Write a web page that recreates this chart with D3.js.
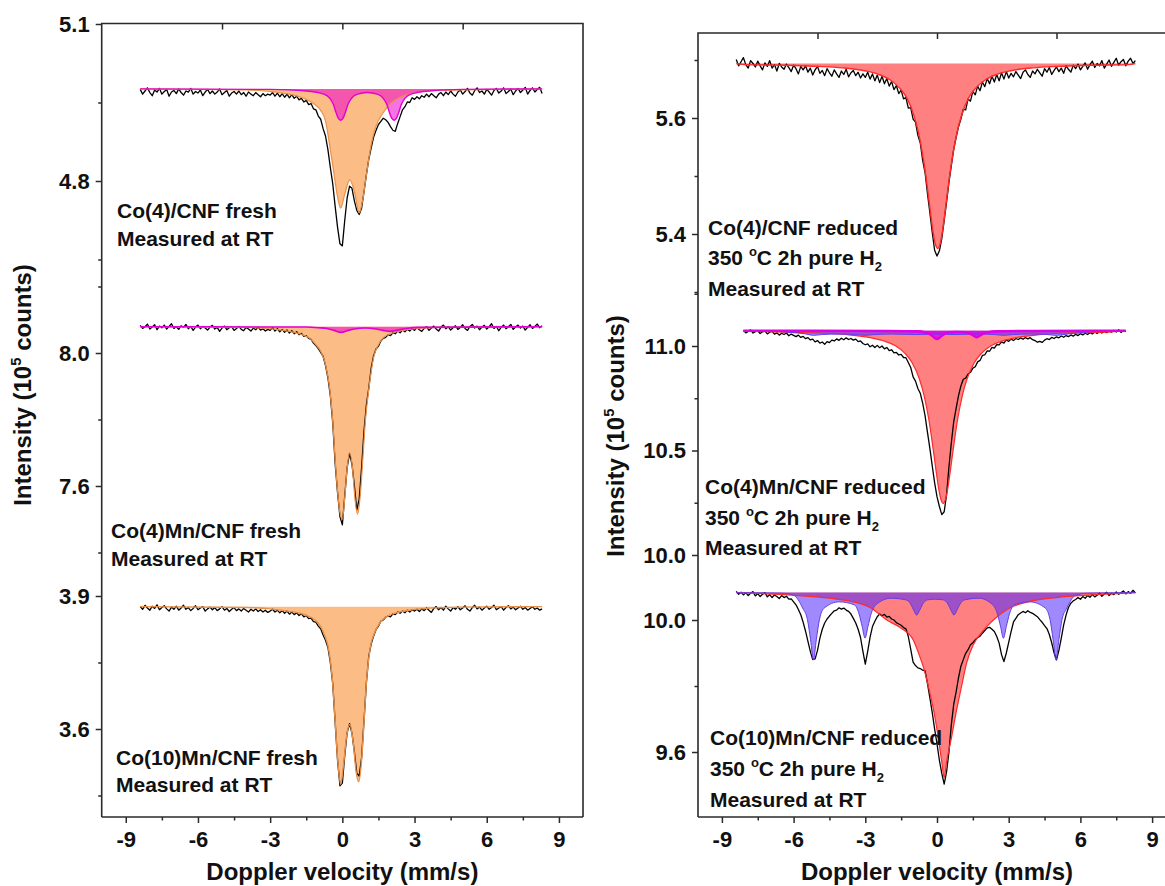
<!DOCTYPE html>
<html><head><meta charset="utf-8">
<script src="https://cdn.jsdelivr.net/npm/d3@7"></script>
<style>
body{margin:0;background:#fff;}
svg text{font-family:"Liberation Sans",Arial,Helvetica,sans-serif;font-weight:bold;fill:#111;}
</style></head><body>
<svg id="chart" width="1165" height="886"></svg>
<script>
// ---------------- DATA ----------------
// Doppler velocity channels (mm/s)
const velocityFull = d3.range(168).map(i => Math.round((-8.4 + i * 0.1) * 10) / 10); // -8.4 .. 8.3
const velocityR2 = d3.range(161).map(i => Math.round((-8.1 + i * 0.1) * 10) / 10);   // -8.1 .. 7.9

const xTickValues = [-9, -6, -3, 0, 3, 6, 9];
const xMinorTicks = [-7.5, -4.5, -1.5, 1.5, 4.5, 7.5];
const xTopTicks = [-5, 0, 5];

// y tick values of each stacked spectrum (10^5 counts)
const l1Major = [4.8, 5.1], l1Minor = [4.65, 4.95];
const l2Major = [7.6, 8.0], l2Minor = [7.4, 7.8, 8.2];
const l3Major = [3.6, 3.9], l3Minor = [3.45, 3.75];
const r1Major = [5.4, 5.6], r1Minor = [5.3, 5.5, 5.7];
const r2Major = [10.0, 10.5, 11.0], r2Minor = [10.25, 10.75, 11.25];
const r3Major = [9.6, 10.0], r3Minor = [9.8];

// measured spectra (black lines), 10^5 counts
const co4FreshCounts = [
4.975,4.966,4.972,4.978,4.969,4.963,4.974,4.970,4.977,4.966,
4.971,4.975,4.962,4.970,4.973,4.967,4.976,4.969,4.964,4.972,
4.970,4.977,4.966,4.971,4.968,4.974,4.963,4.970,4.975,4.967,
4.972,4.966,4.970,4.976,4.965,4.969,4.973,4.962,4.968,4.971,
4.966,4.972,4.965,4.969,4.962,4.970,4.966,4.963,4.969,4.965,
4.961,4.967,4.963,4.966,4.964,4.969,4.962,4.968,4.961,4.967,
4.960,4.966,4.959,4.965,4.958,4.962,4.955,4.958,4.951,4.954,
4.946,4.948,4.938,4.936,4.924,4.918,4.900,4.886,4.860,4.826,
4.795,4.752,4.712,4.680,4.676,4.725,4.768,4.790,4.786,4.762,
4.744,4.736,4.748,4.779,4.812,4.842,4.864,4.884,4.897,4.908,
4.914,4.920,4.917,4.912,4.904,4.897,4.895,4.910,4.923,4.936,
4.942,4.951,4.950,4.959,4.956,4.961,4.957,4.963,4.960,4.966,
4.961,4.967,4.963,4.959,4.966,4.969,4.963,4.970,4.965,4.972,
4.966,4.962,4.970,4.974,4.966,4.971,4.977,4.968,4.964,4.973,
4.978,4.969,4.972,4.966,4.975,4.970,4.964,4.973,4.977,4.968,
4.972,4.978,4.967,4.971,4.976,4.965,4.972,4.977,4.969,4.974,
4.979,4.966,4.973,4.978,4.970,4.975,4.979,4.967];

const co4MnFreshCounts = [
8.083,8.074,8.079,8.087,8.072,8.078,8.085,8.070,8.081,8.076,
8.084,8.072,8.080,8.088,8.074,8.079,8.071,8.082,8.077,8.086,
8.073,8.080,8.068,8.078,8.084,8.073,8.080,8.075,8.069,8.078,
8.083,8.072,8.077,8.065,8.075,8.081,8.070,8.076,8.079,8.068,
8.074,8.080,8.071,8.067,8.077,8.072,8.066,8.075,8.070,8.078,
8.069,8.073,8.066,8.071,8.068,8.076,8.066,8.073,8.064,8.071,
8.062,8.069,8.060,8.067,8.058,8.064,8.055,8.059,8.050,8.052,
8.044,8.041,8.030,8.022,8.013,8.002,7.990,7.962,7.925,7.872,
7.790,7.668,7.580,7.508,7.483,7.570,7.655,7.698,7.665,7.600,
7.528,7.560,7.655,7.765,7.845,7.895,7.955,7.992,8.012,8.020,
8.036,8.044,8.047,8.055,8.052,8.061,8.058,8.066,8.061,8.069,
8.064,8.071,8.066,8.074,8.068,8.077,8.070,8.065,8.074,8.079,
8.068,8.075,8.081,8.072,8.066,8.078,8.084,8.073,8.079,8.069,
8.076,8.082,8.071,8.077,8.085,8.074,8.068,8.080,8.086,8.075,
8.081,8.070,8.078,8.083,8.072,8.079,8.088,8.074,8.080,8.067,
8.077,8.084,8.073,8.079,8.086,8.071,8.078,8.084,8.075,8.081,
8.069,8.077,8.085,8.074,8.080,8.087,8.076,8.082];

const co10MnFreshCounts = [
3.876,3.870,3.879,3.873,3.868,3.877,3.872,3.880,3.869,3.874,
3.878,3.871,3.866,3.875,3.870,3.877,3.868,3.873,3.879,3.870,
3.874,3.867,3.872,3.878,3.869,3.873,3.876,3.866,3.871,3.875,
3.869,3.874,3.867,3.871,3.876,3.868,3.872,3.865,3.870,3.874,
3.867,3.871,3.866,3.872,3.868,3.864,3.870,3.866,3.871,3.865,
3.869,3.864,3.868,3.863,3.866,3.870,3.864,3.868,3.862,3.867,
3.861,3.866,3.859,3.864,3.858,3.862,3.856,3.860,3.853,3.856,
3.849,3.850,3.842,3.841,3.832,3.826,3.812,3.800,3.784,3.750,
3.702,3.615,3.530,3.472,3.478,3.540,3.592,3.612,3.590,3.548,
3.500,3.494,3.535,3.618,3.705,3.765,3.792,3.810,3.824,3.832,
3.843,3.846,3.852,3.855,3.853,3.860,3.858,3.864,3.861,3.866,
3.862,3.868,3.864,3.869,3.866,3.870,3.865,3.871,3.867,3.873,
3.868,3.863,3.872,3.876,3.869,3.874,3.868,3.877,3.871,3.866,
3.874,3.870,3.876,3.869,3.873,3.878,3.870,3.866,3.874,3.879,
3.871,3.875,3.868,3.873,3.877,3.870,3.874,3.879,3.869,3.873,
3.876,3.868,3.874,3.878,3.871,3.875,3.869,3.873,3.877,3.870,
3.874,3.868,3.872,3.876,3.870,3.873,3.868,3.871];

const co4ReducedCounts = [
5.701,5.690,5.697,5.704,5.692,5.686,5.699,5.694,5.688,5.698,
5.690,5.683,5.695,5.689,5.699,5.686,5.692,5.681,5.694,5.688,
5.684,5.693,5.687,5.680,5.691,5.685,5.676,5.689,5.683,5.690,
5.679,5.686,5.674,5.683,5.689,5.677,5.682,5.673,5.685,5.678,
5.672,5.683,5.676,5.670,5.681,5.675,5.684,5.671,5.678,5.682,
5.673,5.679,5.669,5.676,5.670,5.679,5.667,5.676,5.664,5.674,
5.661,5.672,5.659,5.668,5.655,5.663,5.649,5.656,5.642,5.648,
5.633,5.635,5.617,5.618,5.598,5.593,5.570,5.557,5.527,5.506,
5.470,5.437,5.403,5.372,5.362,5.371,5.392,5.423,5.455,5.489,
5.518,5.546,5.566,5.585,5.598,5.615,5.614,5.633,5.629,5.646,
5.640,5.655,5.647,5.662,5.654,5.668,5.659,5.672,5.662,5.675,
5.664,5.678,5.667,5.680,5.669,5.677,5.671,5.680,5.674,5.668,
5.679,5.683,5.675,5.670,5.681,5.676,5.684,5.678,5.672,5.685,
5.679,5.687,5.675,5.682,5.688,5.680,5.686,5.677,5.690,5.684,
5.679,5.691,5.685,5.693,5.683,5.689,5.695,5.684,5.692,5.698,
5.687,5.694,5.690,5.699,5.686,5.693,5.700,5.689,5.696,5.703,
5.691,5.697,5.701,5.690,5.698,5.703,5.694,5.699];

const co4MnReducedCounts = [
11.074,11.063,11.070,11.077,11.062,11.069,11.073,11.060,11.068,11.071,
11.058,11.066,11.070,11.057,11.063,11.052,11.061,11.055,11.062,11.049,
11.057,11.051,11.045,11.052,11.041,11.046,11.035,11.040,11.029,11.033,
11.020,11.026,11.014,11.019,11.008,11.021,11.016,11.028,11.024,11.034,
11.027,11.037,11.030,11.039,11.031,11.036,11.028,11.033,11.021,11.024,
11.012,11.006,11.010,10.996,11.004,10.993,11.003,10.992,11.000,10.986,
10.993,10.978,10.982,10.967,10.969,10.957,10.960,10.945,10.944,10.921,
10.897,10.852,10.832,10.797,10.774,10.727,10.667,10.588,10.511,10.428,
10.346,10.279,10.232,10.193,10.207,10.288,10.422,10.537,10.638,10.702,
10.763,10.809,10.841,10.846,10.866,10.874,10.894,10.901,10.924,10.931,
10.955,10.958,10.977,10.975,10.993,10.990,11.007,11.005,11.020,11.014,
11.029,11.022,11.033,11.026,11.036,11.031,11.039,11.032,11.041,11.034,
11.040,11.030,11.026,11.018,11.022,11.017,11.028,11.035,11.031,11.041,
11.036,11.044,11.039,11.048,11.042,11.050,11.045,11.053,11.047,11.056,
11.050,11.059,11.053,11.061,11.055,11.064,11.058,11.067,11.060,11.069,
11.062,11.071,11.064,11.072,11.066,11.075,11.067,11.078,11.065,11.074,
11.068];

const co10MnReducedCounts = [
10.087,10.078,10.084,10.076,10.083,10.074,10.081,10.086,10.073,10.080,
10.071,10.078,10.083,10.070,10.077,10.068,10.076,10.071,10.065,10.074,
10.068,10.072,10.063,10.064,10.055,10.046,10.032,10.016,9.993,9.966,
9.935,9.905,9.880,9.882,9.908,9.945,9.972,9.991,10.003,10.012,
10.020,10.028,10.030,10.037,10.033,10.036,10.030,10.026,10.018,10.005,
9.991,9.972,9.947,9.905,9.866,9.905,9.948,9.980,9.996,10.010,
10.018,10.013,10.017,10.009,10.011,10.003,10.000,9.992,9.988,9.984,
9.977,9.973,9.950,9.912,9.872,9.862,9.855,9.853,9.848,9.846,
9.808,9.765,9.720,9.670,9.625,9.575,9.535,9.503,9.540,9.600,
9.683,9.745,9.782,9.825,9.860,9.880,9.899,9.910,9.925,9.931,
9.940,9.946,9.951,9.960,9.968,9.976,9.978,9.972,9.965,9.950,
9.930,9.895,9.874,9.900,9.932,9.965,9.994,10.005,10.016,10.021,
10.026,10.022,10.028,10.023,10.020,10.015,10.010,10.001,9.993,9.983,
9.974,9.956,9.931,9.900,9.879,9.908,9.945,9.985,10.015,10.038,
10.051,10.058,10.062,10.068,10.063,10.071,10.066,10.074,10.069,10.077,
10.070,10.075,10.081,10.072,10.079,10.084,10.074,10.081,10.077,10.085,
10.078,10.083,10.088,10.079,10.086,10.081,10.090,10.082];

// fitted sub-spectra: [velocity, counts] knots
const co4FreshOrangeFit = [[-8.4,4.976],[-4,4.974],[-3,4.971],[-2.2,4.966],[-1.6,4.958],[-1.2,4.948],[-0.9,4.935],[-0.7,4.915],[-0.5,4.86],[-0.35,4.815],[-0.22,4.775],[-0.07,4.748],[0.1,4.775],[0.31,4.802],[0.5,4.78],[0.7,4.739],[0.85,4.765],[1.0,4.812],[1.2,4.87],[1.4,4.905],[1.69,4.93],[2.0,4.948],[2.4,4.96],[3,4.968],[4,4.973],[8.3,4.976]];
const co4FreshMagentaFit = [[-8.4,4.976],[-3,4.975],[-1.5,4.972],[-0.77,4.966],[-0.52,4.958],[-0.37,4.946],[-0.27,4.932],[-0.17,4.920],[-0.07,4.916],[0.03,4.920],[0.13,4.932],[0.23,4.946],[0.38,4.958],[0.63,4.966],[1.04,4.969],[1.45,4.966],[1.7,4.958],[1.85,4.946],[1.95,4.932],[2.05,4.920],[2.15,4.916],[2.25,4.920],[2.35,4.932],[2.45,4.946],[2.6,4.958],[2.85,4.966],[3.6,4.972],[5,4.975],[8.3,4.976]];
const co4MnFreshOrangeFit = [[-8.4,8.079],[-4,8.077],[-3,8.073],[-2.5,8.069],[-2,8.062],[-1.6,8.053],[-1.37,8.045],[-1.14,8.028],[-0.9,8.005],[-0.7,7.965],[-0.53,7.895],[-0.4,7.795],[-0.3,7.68],[-0.2,7.585],[-0.1,7.52],[0.0,7.5],[0.1,7.565],[0.2,7.655],[0.31,7.70],[0.42,7.655],[0.52,7.565],[0.63,7.515],[0.73,7.56],[0.85,7.68],[0.95,7.79],[1.08,7.88],[1.2,7.945],[1.31,7.99],[1.5,8.025],[1.69,8.045],[2.0,8.058],[2.5,8.068],[3,8.073],[4,8.077],[8.3,8.079]];
const co4MnFreshMagentaFit = [[-8.4,8.079],[-1.5,8.078],[-1.0,8.076],[-0.6,8.073],[-0.35,8.068],[-0.05,8.062],[0.25,8.068],[0.5,8.072],[0.95,8.075],[1.4,8.072],[1.7,8.068],[2.0,8.065],[2.3,8.069],[2.6,8.073],[3.2,8.077],[8.3,8.079]];
const co10MnFreshOrangeFit = [[-8.4,3.876],[-4,3.874],[-3,3.871],[-2.3,3.866],[-1.75,3.861],[-1.4,3.854],[-1.14,3.846],[-0.9,3.831],[-0.75,3.813],[-0.6,3.788],[-0.5,3.755],[-0.42,3.715],[-0.3,3.62],[-0.2,3.535],[-0.07,3.475],[0.05,3.52],[0.18,3.585],[0.31,3.61],[0.45,3.57],[0.57,3.505],[0.68,3.481],[0.8,3.53],[0.9,3.615],[1.0,3.705],[1.16,3.784],[1.35,3.818],[1.61,3.843],[1.9,3.855],[2.23,3.862],[2.8,3.868],[3.5,3.872],[5,3.875],[8.3,3.876]];
const co4ReducedRedFit = [[-8.4,5.694],[-7.97,5.692],[-5.97,5.6906],[-4.97,5.689],[-3.97,5.6865],[-2.97,5.681],[-2.47,5.6755],[-1.97,5.666],[-1.57,5.652],[-1.27,5.635],[-0.97,5.605],[-0.77,5.574],[-0.57,5.529],[-0.47,5.501],[-0.37,5.469],[-0.27,5.436],[-0.17,5.405],[-0.07,5.383],[0.03,5.375],[0.13,5.383],[0.23,5.405],[0.33,5.436],[0.43,5.469],[0.53,5.501],[0.63,5.529],[0.83,5.574],[1.03,5.605],[1.33,5.635],[1.63,5.652],[2.03,5.666],[2.53,5.6755],[3.03,5.681],[4.03,5.6865],[5.03,5.689],[6.03,5.6906],[8.03,5.692],[8.3,5.694]];
const co4MnReducedRedFit = [[-8.1,11.073],[-6.74,11.067],[-5.74,11.064],[-4.74,11.061],[-3.74,11.054],[-2.74,11.039],[-2.24,11.025],[-1.74,11.001],[-1.34,10.965],[-1.04,10.920],[-0.74,10.843],[-0.54,10.763],[-0.34,10.647],[-0.24,10.572],[-0.14,10.490],[-0.04,10.404],[0.06,10.325],[0.16,10.268],[0.26,10.247],[0.36,10.268],[0.46,10.325],[0.56,10.404],[0.66,10.490],[0.76,10.572],[0.86,10.647],[1.06,10.763],[1.26,10.843],[1.56,10.920],[1.86,10.965],[2.26,11.001],[2.76,11.025],[3.26,11.039],[4.26,11.054],[5.26,11.061],[6.26,11.064],[7.26,11.067],[7.9,11.073]];
const co4MnReducedBlueFit = [[-8.1,11.073],[-7,11.071],[-6.2,11.066],[-5.5,11.058],[-5.17,11.051],[-4.8,11.055],[-4.1,11.057],[-3.4,11.055],[-3.01,11.051],[-2.6,11.055],[-1.9,11.057],[-0.85,11.055],[-0.07,11.057],[0.71,11.055],[1.75,11.057],[2.4,11.055],[2.78,11.051],[3.2,11.055],[3.9,11.057],[4.6,11.055],[4.98,11.051],[5.5,11.058],[6.2,11.066],[7,11.071],[7.9,11.073]];
const co4MnReducedMagentaFit = [[-8.1,11.073],[-2,11.072],[-0.8,11.070],[-0.5,11.065],[-0.3,11.057],[-0.2,11.049],[-0.1,11.039],[0,11.034],[0.1,11.039],[0.2,11.049],[0.3,11.057],[0.5,11.065],[0.83,11.067],[1.16,11.066],[1.36,11.060],[1.46,11.055],[1.56,11.047],[1.66,11.042],[1.76,11.047],[1.86,11.055],[1.96,11.060],[2.16,11.066],[2.5,11.070],[4,11.072],[7.9,11.073]];
const co10MnReducedRedFit = [[-8.4,10.083],[-6,10.075],[-4.5,10.066],[-3.5,10.055],[-2.8,10.038],[-2.1,10.0],[-1.5,9.975],[-1.0,9.94],[-0.75,9.895],[-0.5,9.84],[-0.36,9.798],[-0.15,9.73],[0.05,9.645],[0.2,9.57],[0.3,9.522],[0.4,9.57],[0.61,9.645],[0.8,9.72],[1.03,9.80],[1.24,9.87],[1.52,9.925],[1.9,9.965],[2.36,10.0],[3.0,10.035],[3.8,10.055],[5,10.068],[6.5,10.076],[8.3,10.083]];
const co10MnReducedBlueFit = [[-8.4,10.083],[-6.5,10.081],[-6.0,10.075],[-5.62,10.036],[-5.42,10.001],[-5.29,9.940],[-5.17,9.879],[-5.05,9.940],[-4.92,10.001],[-4.72,10.036],[-4.1,10.055],[-3.46,10.046],[-3.26,10.018],[-3.13,9.980],[-3.01,9.945],[-2.89,9.980],[-2.76,10.018],[-2.56,10.046],[-1.93,10.066],[-1.3,10.061],[-1.1,10.048],[-0.97,10.029],[-0.85,10.015],[-0.73,10.029],[-0.6,10.048],[-0.4,10.061],[-0.07,10.063],[0.26,10.061],[0.46,10.048],[0.59,10.029],[0.71,10.015],[0.83,10.029],[0.96,10.048],[1.16,10.061],[1.75,10.066],[2.33,10.046],[2.53,10.018],[2.66,9.980],[2.78,9.945],[2.90,9.980],[3.03,10.018],[3.23,10.046],[3.88,10.055],[4.53,10.036],[4.73,10.001],[4.86,9.940],[4.98,9.879],[5.10,9.940],[5.23,10.001],[5.43,10.036],[5.8,10.075],[6.3,10.081],[8.3,10.083]];

// annotation texts
const labelL1 = [[["Co(4)/CNF fresh"]], [["Measured at RT"]]];
const labelL2 = [[["Co(4)Mn/CNF fresh"]], [["Measured at RT"]]];
const labelL3 = [[["Co(10)Mn/CNF fresh"]], [["Measured at RT"]]];
const h2Line = [["350 "], ["o", "sup"], ["C 2h pure H"], ["2", "sub"]];
const labelR1 = [[["Co(4)/CNF reduced"]], h2Line, [["Measured at RT"]]];
const labelR2 = [[["Co(4)Mn/CNF reduced"]], h2Line, [["Measured at RT"]]];
const labelR3 = [[["Co(10)Mn/CNF reduced"]], h2Line, [["Measured at RT"]]];
const xTitle = "Doppler velocity (mm/s)";
const yTitle = [["Intensity (10"], ["5", "sup"], [" counts)"]];

// ---------------- STYLE / LAYOUT ----------------
const ORANGE_FILL = "#fbbc85", ORANGE_LINE = "#e8914a";
const MAGENTA_FILL = "rgba(238,0,205,0.55)", MAGENTA_LINE = "#e400d2";
const RED_FILL = "#ff8080", RED_LINE = "#ff2a2a";
const BLUE_FILL = "rgba(78,40,255,0.55)", BLUE_LINE = "#5a3cff";
const AXIS_COLOR = "#2a2a2a";

const svg = d3.select("#chart");
const panels = [
  {left: 101.7, right: 583, top: 23.5, bottom: 817, clipRight: false, titleX: 31, titleY: 385},
  {left: 698, right: 1176, top: 33, bottom: 817, clipRight: true, titleX: 624, titleY: 436}
];
panels.forEach(p => { p.x = d3.scaleLinear().domain([-10, 10]).range([p.left, p.right]); });

const subplots = [
  {panel: 0, domain: [4.8, 5.1], range: [181, 24], major: l1Major, minor: l1Minor, v: velocityFull, counts: co4FreshCounts,
   fits: [{k: co4FreshOrangeFit, base: 4.976, fill: ORANGE_FILL, stroke: ORANGE_LINE, sw: 1.2},
          {k: co4FreshMagentaFit, base: 4.976, fill: MAGENTA_FILL, stroke: MAGENTA_LINE, sw: 1.4}],
   label: {x: 117, ys: [218, 246], lines: labelL1}},
  {panel: 0, domain: [7.6, 8.0], range: [486, 353], major: l2Major, minor: l2Minor, v: velocityFull, counts: co4MnFreshCounts,
   fits: [{k: co4MnFreshOrangeFit, base: 8.079, fill: ORANGE_FILL, stroke: ORANGE_LINE, sw: 1.2},
          {k: co4MnFreshMagentaFit, base: 8.079, fill: MAGENTA_FILL, stroke: MAGENTA_LINE, sw: 1.6}],
   label: {x: 111, ys: [538, 566], lines: labelL2}},
  {panel: 0, domain: [3.6, 3.9], range: [729, 596], major: l3Major, minor: l3Minor, v: velocityFull, counts: co10MnFreshCounts,
   fits: [{k: co10MnFreshOrangeFit, base: 3.876, fill: ORANGE_FILL, stroke: ORANGE_LINE, sw: 1.4}],
   label: {x: 116, ys: [765, 792], lines: labelL3}},
  {panel: 1, domain: [5.4, 5.6], range: [234, 118], major: r1Major, minor: r1Minor, v: velocityFull, counts: co4ReducedCounts,
   fits: [{k: co4ReducedRedFit, base: 5.694, fill: RED_FILL, stroke: RED_LINE, sw: 1.4}],
   label: {x: 708, ys: [235, 265, 296], lines: labelR1}},
  {panel: 1, domain: [10.0, 11.0], range: [555, 346], major: r2Major, minor: r2Minor, v: velocityR2, counts: co4MnReducedCounts,
   fits: [{k: co4MnReducedRedFit, base: 11.073, fill: RED_FILL, stroke: RED_LINE, sw: 1.2},
          {k: co4MnReducedBlueFit, base: 11.073, fill: BLUE_FILL, stroke: BLUE_LINE, sw: 1},
          {k: co4MnReducedMagentaFit, base: 11.073, fill: "rgba(225,0,225,0.75)", stroke: "#e000e8", sw: 2.6}],
   label: {x: 705, ys: [494, 525, 555], lines: labelR2}},
  {panel: 1, domain: [9.6, 10.0], range: [752, 620], major: r3Major, minor: r3Minor, v: velocityFull, counts: co10MnReducedCounts,
   fits: [{k: co10MnReducedRedFit, base: 10.083, fill: RED_FILL, stroke: RED_LINE, sw: 1.2},
          {k: co10MnReducedBlueFit, base: 10.083, fill: BLUE_FILL, stroke: "#6a3ce0", sw: 1}],
   label: {x: 710, ys: [745, 776, 807], lines: labelR3}}
];

function richText(g, x, y, segments, size, attrs) {
  const t = g.append("text").attr("x", x).attr("y", y).attr("font-size", size);
  if (attrs) Object.entries(attrs).forEach(([a, v]) => t.attr(a, v));
  let shift = 0;
  segments.forEach(seg => {
    const str = seg[0], kind = seg[1];
    const target = kind === "sup" ? -0.42 * size : kind === "sub" ? 0.28 * size : 0;
    const ts = t.append("tspan").text(str).attr("dy", target - shift);
    if (kind) ts.attr("font-size", size * 0.62);
    shift = target;
  });
  return t;
}

// ---------------- DRAW ----------------
const gPlot = svg.append("g");
subplots.forEach(s => {
  const P = panels[s.panel], x = P.x;
  const y = d3.scaleLinear().domain(s.domain).range(s.range);
  const g = gPlot.append("g");
  s.fits.forEach(f => {
    const area = d3.area().curve(d3.curveMonotoneX).x(d => x(d[0])).y0(y(f.base)).y1(d => y(d[1]));
    g.append("path").attr("d", area(f.k)).attr("fill", f.fill).attr("stroke", "none");
  });
  const line = d3.line().x((d, i) => x(s.v[i])).y(d => y(d));
  g.append("path").attr("d", line(s.counts)).attr("fill", "none").attr("stroke", "#000")
    .attr("stroke-width", 1.3).attr("stroke-linejoin", "round");
  s.fits.forEach(f => {
    const ln = d3.line().curve(d3.curveMonotoneX).x(d => x(d[0])).y(d => y(d[1]));
    g.append("path").attr("d", ln(f.k)).attr("fill", "none").attr("stroke", f.stroke).attr("stroke-width", f.sw);
  });
  // y axis ticks
  const ga = svg.append("g").attr("transform", `translate(${P.left},0)`);
  ga.call(d3.axisLeft(y).tickValues(s.major).tickSize(6).tickPadding(6).tickFormat(d3.format(".1f")));
  ga.select(".domain").remove();
  ga.attr("font-size", 22).attr("font-family", null).attr("color", AXIS_COLOR);
  ga.selectAll("line").attr("stroke-width", 1.5);
  const gm = svg.append("g").attr("transform", `translate(${P.left},0)`);
  gm.call(d3.axisLeft(y).tickValues(s.minor).tickSize(3.5).tickFormat(""));
  gm.select(".domain").remove();
  gm.attr("color", AXIS_COLOR);
  gm.selectAll("line").attr("stroke-width", 1.5);
  // annotation
  s.label.lines.forEach((segs, i) => richText(svg, s.label.x, s.label.ys[i], segs, 21));
});

panels.forEach(P => {
  const x = P.x;
  // frame
  let d = `M${P.left},${P.bottom}V${P.top}H${P.right}`;
  if (!P.clipRight) d += `V${P.bottom}`;
  svg.append("path").attr("d", d).attr("fill", "none").attr("stroke", AXIS_COLOR).attr("stroke-width", 1.6);
  svg.append("path").attr("d", `M${P.left},${P.bottom}H${P.right}`).attr("stroke", AXIS_COLOR).attr("stroke-width", 1.6);
  // bottom axis
  const gx = svg.append("g").attr("transform", `translate(0,${P.bottom})`);
  gx.call(d3.axisBottom(x).tickValues(xTickValues).tickSize(6).tickPadding(8).tickFormat(d => String(d)));
  gx.select(".domain").remove();
  gx.attr("font-size", 22).attr("font-family", null).attr("color", AXIS_COLOR);
  gx.selectAll("line").attr("stroke-width", 1.5);
  const gxm = svg.append("g").attr("transform", `translate(0,${P.bottom})`);
  gxm.call(d3.axisBottom(x).tickValues(xMinorTicks).tickSize(3.5).tickFormat(""));
  gxm.select(".domain").remove();
  gxm.attr("color", AXIS_COLOR);
  gxm.selectAll("line").attr("stroke-width", 1.5);
  // top inward ticks
  const gt = svg.append("g").attr("transform", `translate(0,${P.top})`);
  gt.call(d3.axisTop(x).tickValues(xTopTicks).tickSize(-6).tickFormat(""));
  gt.select(".domain").remove();
  gt.attr("color", AXIS_COLOR);
  gt.selectAll("line").attr("stroke-width", 1.5);
  // titles
  svg.append("text").attr("x", x(0)).attr("y", 880).attr("text-anchor", "middle")
    .attr("font-size", 24).text(xTitle);
  const gy = svg.append("g").attr("transform", `translate(${P.titleX},${P.titleY}) rotate(-90)`);
  richText(gy, 0, 0, yTitle, 24, {"text-anchor": "middle", "dy": "0.35em"});
});
</script></body></html>
